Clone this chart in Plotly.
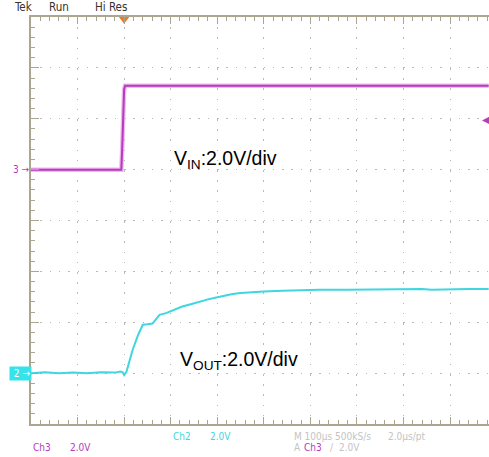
import plotly.graph_objects as go

# ---- data (time in microseconds relative to trigger, volts) ----
ch3_t = [-200, -100, -6, -4, -2, 0, 2, 100, 300, 500, 783]
ch3_v = [0.0, 0.0, 0.0, 0.9, 2.4, 3.15, 3.3, 3.3, 3.3, 3.3, 3.3]

ch2_t = [-200, -170, -140, -110, -80, -50, -20, -8, -3, 0, 5, 18, 30, 40, 50, 61,
         70, 76, 90, 98, 110, 125, 145, 162, 180, 198, 215, 233, 250, 269, 300,
         340, 376, 420, 480, 540, 600, 640, 660, 700, 740, 783]
ch2_v = [0.0, 0.03, 0.0, 0.02, 0.0, 0.03, 0.02, 0.06, 0.03, -0.08, 0.05, 0.9, 1.5,
         1.9, 1.92, 1.95, 2.15, 2.29, 2.36, 2.42, 2.5, 2.62, 2.72, 2.82, 2.9, 2.97,
         3.05, 3.11, 3.15, 3.18, 3.21, 3.24, 3.27, 3.28, 3.28, 3.29, 3.29, 3.31,
         3.28, 3.3, 3.31, 3.31]

trig_time = 0
trig_level = 2.0
ch3_label = "V<sub>IN</sub>:2.0V/div"
ch2_label = "V<sub>OUT</sub>:2.0V/div"

W, H = 489, 457
ML, MR, MT, MB = 31, 0, 17, 33
PW, PH = W - ML - MR, H - MT - MB

def px(x):
    return (x - ML) / PW

def py(y):
    return (H - MB - y) / PH

MAG = "#b53cbc"
MAG_GLOW = "#efb6ef"
CYAN = "#3fd6df"
AXC = "#aca690"
GRID = "#b8b8b8"
NARROW = "Liberation Sans Narrow, Arial Narrow, DejaVu Sans Condensed, sans-serif"
YR3 = [-10, 6]

fig = go.Figure()
fig.add_trace(go.Scatter(x=ch3_t, y=ch3_v, mode="lines", yaxis="y",
                         line=dict(color=MAG_GLOW, width=4.5), hoverinfo="skip"))
fig.add_trace(go.Scatter(x=ch3_t, y=ch3_v, mode="lines", yaxis="y",
                         line=dict(color=MAG, width=2)))
fig.add_trace(go.Scatter(x=ch2_t, y=ch2_v, mode="lines", yaxis="y2",
                         line=dict(color=CYAN, width=2)))
# trigger position marker (top edge) on the top axis
fig.add_trace(go.Scatter(x=[trig_time], y=[YR3[1] - 0.09], xaxis="x2", yaxis="y",
                         mode="markers", cliponaxis=False, hoverinfo="skip",
                         marker=dict(symbol="triangle-down", size=9, color="#f07a20",
                                     line=dict(width=0))))

xr = [-200, -200 + PW / 0.4656]

fig.update_layout(
    width=W, height=H, margin=dict(l=ML, r=MR, t=MT, b=MB),
    paper_bgcolor="white", plot_bgcolor="white", showlegend=False,
    xaxis=dict(range=xr, tick0=0, dtick=100, showticklabels=False,
               showgrid=True, gridcolor=GRID, griddash="1.5px,8.7px", gridwidth=1.4,
               zeroline=False, showline=True, linecolor=AXC, linewidth=1.5,
               ticks="inside", ticklen=7, tickcolor=AXC, tickwidth=1,
               minor=dict(dtick=20, ticks="inside", ticklen=4, tickcolor=AXC,
                          showgrid=False)),
    xaxis2=dict(range=xr, overlaying="x", side="top", tick0=0, dtick=100,
                showticklabels=False, showgrid=False, zeroline=False,
                showline=True, linecolor=AXC, linewidth=1.5,
                ticks="inside", ticklen=7, tickcolor=AXC, tickwidth=1,
                minor=dict(dtick=20, ticks="inside", ticklen=4, tickcolor=AXC)),
    yaxis=dict(range=YR3, tick0=0, dtick=2, showticklabels=False,
               showgrid=True, gridcolor=GRID, griddash="1.5px,7.8px", gridwidth=1.4,
               zeroline=False, showline=True, linecolor=AXC, linewidth=1.5,
               ticks="inside", ticklen=8, tickcolor=AXC, tickwidth=1,
               minor=dict(dtick=0.4, ticks="inside", ticklen=4, tickcolor=AXC,
                          showgrid=False)),
    yaxis2=dict(range=[-2, 14], overlaying="y", showticklabels=False,
                showgrid=False, zeroline=False, showline=False, ticks=""),
)

ann = []
# trace labels
ann.append(dict(text=ch3_label, x=px(172), y=py(160), xref="paper", yref="paper",
                xanchor="left", yanchor="middle", showarrow=False,
                font=dict(family="Liberation Sans, Arial, sans-serif", size=19.5, color="black")))
ann.append(dict(text=ch2_label, x=px(178), y=py(360), xref="paper", yref="paper",
                xanchor="left", yanchor="middle", showarrow=False,
                font=dict(family="Liberation Sans, Arial, sans-serif", size=19.5, color="black")))
# channel ground markers
ann.append(dict(text="3 \u2192", x=0, y=0, xref="paper", yref="y", xanchor="right",
                yanchor="middle", showarrow=False, xshift=1,
                font=dict(family=NARROW, size=10, color=MAG)))
ann.append(dict(text=" 2 \u2192", x=0, y=0, xref="paper", yref="y2", xanchor="right",
                yanchor="middle", showarrow=False, xshift=1, bgcolor="#35e3ea",
                borderpad=1, font=dict(family=NARROW, size=10, color="white")))
# trigger level marker
ann.append(dict(text="\u25C0", x=1, y=trig_level, xref="paper", yref="y",
                xanchor="right", yanchor="middle", showarrow=False, xshift=3,
                font=dict(size=10, color=MAG)))
# top status text
for t, x in [("Tek", 12), ("Run", 47), ("Hi Res", 93)]:
    ann.append(dict(text=t, x=px(x), y=py(7), xref="paper", yref="paper",
                    xanchor="left", yanchor="middle", showarrow=False,
                    font=dict(family=NARROW, size=11.5, color="#333333")))
# bottom readouts
bottom = [("Ch2", 171, 436, CYAN), ("2.0V", 208, 436, CYAN),
          ("M 100\u00b5s 500kS/s", 292, 436, "#c4c4c4"), ("2.0\u00b5s/pt", 386, 436, "#c4c4c4"),
          ("Ch3", 31, 447, MAG), ("2.0V", 68, 447, MAG),
          ("A", 292, 447, "#c4c4c4"), ("Ch3", 302, 447, MAG),
          ("/", 328, 447, "#c4c4c4"), ("2.0V", 337, 447, "#c4c4c4")]
for t, x, y, c in bottom:
    ann.append(dict(text=t, x=px(x), y=py(y), xref="paper", yref="paper",
                    xanchor="left", yanchor="middle", showarrow=False,
                    font=dict(family=NARROW, size=10, color=c)))
fig.update_layout(annotations=ann)

fig.write_html("out.html", config={"displayModeBar": False},
               post_script="document.body.style.margin='0';document.body.style.padding='0';")
